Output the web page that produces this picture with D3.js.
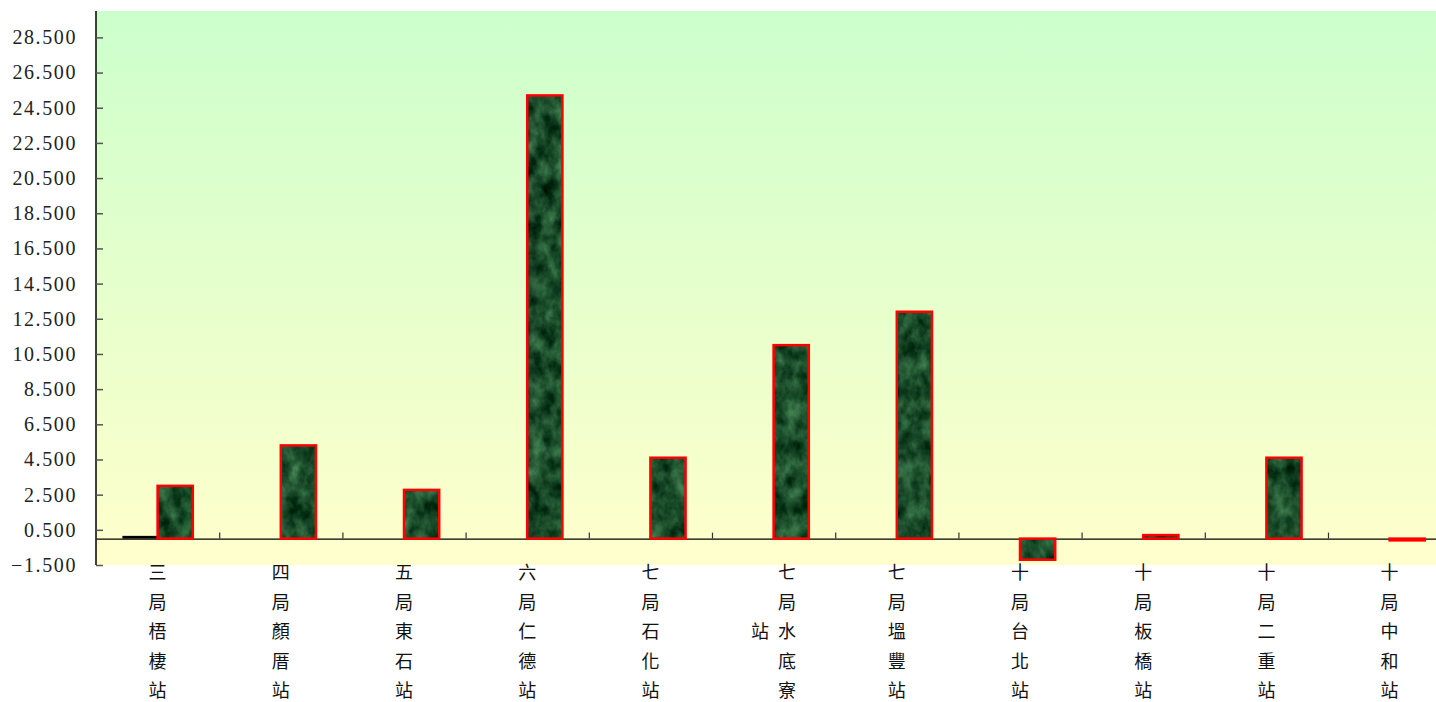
<!DOCTYPE html>
<html>
<head>
<meta charset="utf-8">
<script src="https://cdn.jsdelivr.net/npm/d3@7"></script>
<style>
   body { margin: 0; background: #fff; }
   svg { display: block; }
</style>
</head>
<body>
<div id="chart"></div>
<script>
const categories = ["三局梧棲站", "四局顏厝站", "五局東石站", "六局仁德站", "七局石化站", "七局水底寮站",
   "七局塭豐站", "十局台北站", "十局板橋站", "十局二重站", "十局中和站"];
const seriesA = [0.1, 0, 0, 0, 0, 0, 0, 0, 0, 0, 0];
const seriesB = [3.0, 5.3, 2.77, 25.2, 4.6, 11.0, 12.9, -1.2, 0.2, 4.6, -0.1];
const yTicks = [-1.5, 0.5, 2.5, 4.5, 6.5, 8.5, 10.5, 12.5, 14.5, 16.5, 18.5, 20.5, 22.5, 24.5, 26.5, 28.5];
const yDomain = [-1.5, 30];

const chartWidth = 1436, chartHeight = 702;
const plotLeft = 96, plotTop = 11, plotBottom = 565;
const step = 123.2;

const svg = d3.select("#chart").append("svg")
   .attr("width", chartWidth)
   .attr("height", chartHeight);

const defs = svg.append("defs");

// plot background, green at the top to yellow at the bottom
const grad = defs.append("linearGradient")
   .attr("id", "bg")
   .attr("x1", 0).attr("y1", 0).attr("x2", 0).attr("y2", 1);
grad.append("stop").attr("offset", "0%").attr("stop-color", "#ccffcc");
grad.append("stop").attr("offset", "100%").attr("stop-color", "#ffffcc");

// green marble texture for the bars
const filter = defs.append("filter")
   .attr("id", "marbleNoise")
   .attr("x", 0).attr("y", 0).attr("width", "100%").attr("height", "100%")
   .attr("color-interpolation-filters", "sRGB");
filter.append("feTurbulence")
   .attr("type", "fractalNoise")
   .attr("baseFrequency", "0.07 0.05")
   .attr("numOctaves", 4)
   .attr("seed", 7);
filter.append("feColorMatrix")
   .attr("type", "matrix")
   .attr("values", "0.45 0 0 0 -0.12  0.6 0 0 0 0.0  0.45 0 0 0 -0.06  0 0 0 0 1");

const pattern = defs.append("pattern")
   .attr("id", "marble")
   .attr("patternUnits", "userSpaceOnUse")
   .attr("width", chartWidth).attr("height", chartHeight);
pattern.append("rect")
   .attr("width", chartWidth).attr("height", chartHeight)
   .attr("filter", "url(#marbleNoise)");

const x = d3.scaleBand()
   .domain(categories)
   .range([plotLeft, plotLeft + step * categories.length]);

const xs = d3.scaleBand()
   .domain(["a", "b"])
   .range([0, x.bandwidth()])
   .paddingInner(0)
   .paddingOuter(0.75);

const y = d3.scaleLinear()
   .domain(yDomain)
   .range([plotBottom, plotTop]);

svg.append("rect")
   .attr("x", plotLeft)
   .attr("y", plotTop)
   .attr("width", chartWidth - plotLeft)
   .attr("height", plotBottom - plotTop)
   .attr("fill", "url(#bg)");

// value axis, ticks point into the plot
const yAxis = svg.append("g")
   .attr("transform", `translate(${plotLeft},0)`)
   .call(d3.axisLeft(y)
      .tickValues(yTicks)
      .tickFormat(d3.format(".3f"))
      .tickSize(-7)
      .tickSizeOuter(0)
      .tickPadding(19));
yAxis.select(".domain").attr("stroke", "#000").attr("stroke-width", 1.5)
   .attr("d", `M0,${plotTop}V${plotBottom}`);
yAxis.selectAll(".tick line").attr("stroke", "#555").attr("stroke-width", 1.5);
yAxis.selectAll(".tick text")
   .attr("fill", "#222")
   .style("font-family", "'Liberation Serif', 'DejaVu Serif', serif")
   .style("font-size", "20px")
   .style("letter-spacing", "1.6px");

// category axis crossing at zero, tick marks between categories
const xEdges = d3.scaleLinear()
   .domain([0, categories.length])
   .range([plotLeft, plotLeft + step * categories.length]);
const xAxis = svg.append("g")
   .attr("transform", `translate(0,${y(0)})`)
   .call(d3.axisTop(xEdges)
      .tickValues(d3.range(1, categories.length))
      .tickFormat("")
      .tickSize(6)
      .tickSizeOuter(0));
xAxis.select(".domain").attr("stroke", "#000").attr("stroke-width", 1.2);
xAxis.selectAll(".tick line").attr("stroke", "#333").attr("stroke-width", 1.2);

// bars
const bars = svg.append("g");
bars.selectAll("rect.a")
   .data(seriesA)
   .join("rect")
   .attr("class", "a")
   .attr("x", (d, i) => x(categories[i]) + xs("a"))
   .attr("width", xs.bandwidth())
   .attr("y", d => y(Math.max(d, 0)) - 1)
   .attr("height", d => Math.abs(y(d) - y(0)) + 1)
   .attr("fill", "#000")
   .attr("visibility", d => d === 0 ? "hidden" : "visible");

bars.selectAll("rect.b")
   .data(seriesB)
   .join("rect")
   .attr("class", "b")
   .attr("x", (d, i) => x(categories[i]) + xs("b"))
   .attr("width", xs.bandwidth())
   .attr("y", d => y(Math.max(d, 0)))
   .attr("height", d => Math.abs(y(d) - y(0)))
   .attr("fill", "url(#marble)")
   .attr("stroke", "#ff0000")
   .attr("stroke-width", 2.5);

// stacked vertical category labels; a sixth character wraps into a
// second column on the left, centred vertically like the original
const rowGap = 29.5, firstRow = 571;
const labels = svg.append("g")
   .style("font-family", "'Noto Sans CJK TC', 'Noto Sans CJK SC', sans-serif")
   .style("font-size", "18px")
   .attr("fill", "#111")
   .attr("text-anchor", "middle")
   .attr("dominant-baseline", "central");

categories.forEach(c => {
   const cx = x(c) + x.bandwidth() / 2;
   const chars = Array.from(c);
   const main = chars.slice(0, 5);
   const rest = chars.slice(5);
   const mainX = rest.length ? cx + 13.5 : cx;
   main.forEach((ch, i) => {
      labels.append("text").attr("x", mainX).attr("y", firstRow + i * rowGap).text(ch);
   });
   const offset = (main.length - rest.length) / 2;
   rest.forEach((ch, i) => {
      labels.append("text").attr("x", cx - 13.5).attr("y", firstRow + (i + offset) * rowGap).text(ch);
   });
});
</script>
</body>
</html>
